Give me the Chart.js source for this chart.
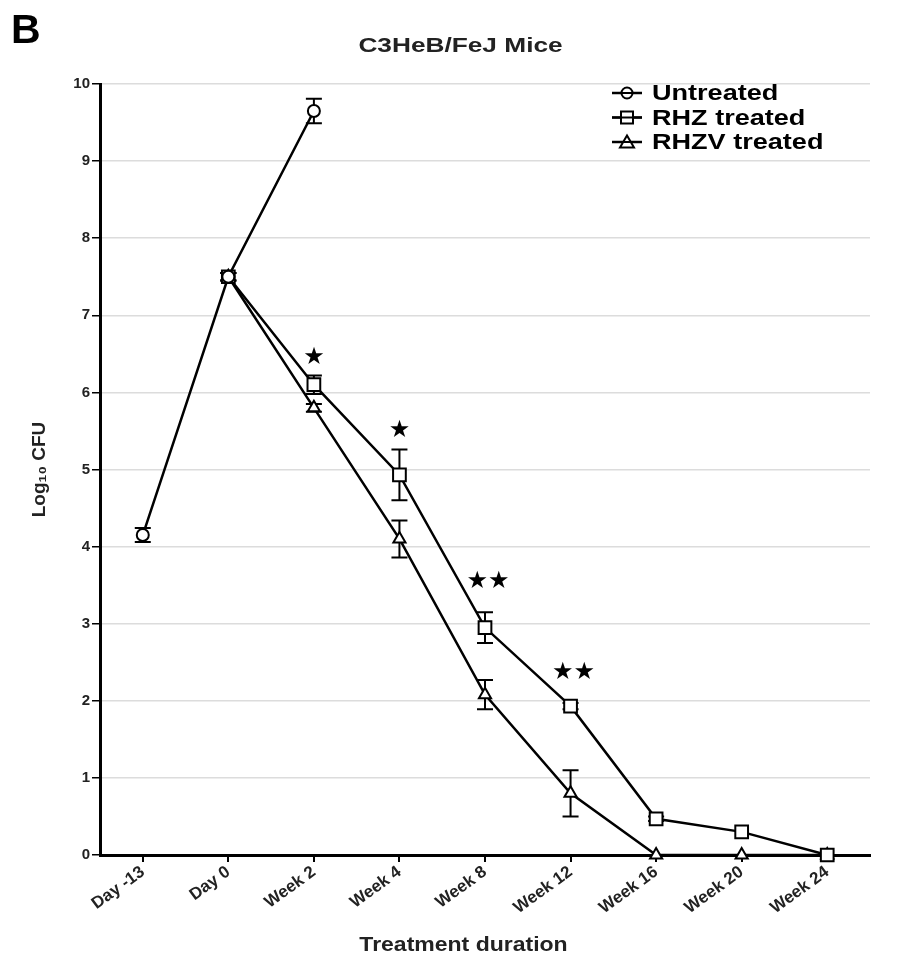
<!DOCTYPE html>
<html lang="en">
<head>
    <meta charset="UTF-8">
    <title>C3HeB/FeJ Mice</title>
    <script src="https://cdn.jsdelivr.net/npm/chart.js"></script>
    <style>
        html, body { margin: 0; padding: 0; background: #fff; }
        #wrap { width: 921px; height: 974px; }
    </style>
</head>
<body>
    <div id="wrap"><canvas id="myChart" width="921" height="974"></canvas></div>

    <script>
        // categories on x
        const labels = ['Day -13', 'Day 0', 'Week 2', 'Week 4', 'Week 8', 'Week 12', 'Week 16', 'Week 20', 'Week 24'];

        // log10 CFU means
        const untreated = [4.15, 7.5, 9.65, null, null, null, null, null, null];
        const rhz       = [null, 7.5, 6.1, 4.93, 2.95, 1.93, 0.47, 0.3, 0];
        const rhzv      = [null, 7.5, 5.8, 4.1, 2.08, 0.8, 0, 0, 0];

        // error bar half-widths
        const untreatedErr = [0.09, 0.05, 0.16, null, null, null, null, null, null];
        const rhzErr       = [null, 0.05, 0.12, 0.33, 0.2, 0.04, 0.03, 0, 0];
        const rhzvErr      = [null, 0.05, 0.05, 0.24, 0.19, 0.3, 0, 0, 0];

        // significance stars
        const starCats   = ['Week 2', 'Week 4', 'Week 8', 'Week 12'];
        const starValues = [6.45, 5.5, 3.55, 2.36];
        const starText   = ['★', '★', '★★', '★★'];

        const FONT = 'Liberation Sans, Arial, sans-serif';

        // error bars under the markers
        const errorBars = {
            id: 'errorBars',
            beforeDatasetsDraw(chart) {
                const ctx = chart.ctx;
                const x = chart.scales.x, y = chart.scales.y;
                ctx.save();
                ctx.strokeStyle = '#000';
                ctx.lineWidth = 2;
                chart.data.datasets.forEach(ds => {
                    ds.data.forEach((v, i) => {
                        const e = ds.errors[i];
                        if (v == null || !e) return;
                        const px = x.getPixelForValue(i);
                        const top = y.getPixelForValue(v + e);
                        const bot = y.getPixelForValue(v - e);
                        ctx.beginPath();
                        ctx.moveTo(px, top); ctx.lineTo(px, bot);
                        ctx.moveTo(px - 8, top); ctx.lineTo(px + 8, top);
                        ctx.moveTo(px - 8, bot); ctx.lineTo(px + 8, bot);
                        ctx.stroke();
                    });
                });
                ctx.restore();
            }
        };

        // wide text like the stretched original
        function wideText(ctx, text, x, y, sx) {
            ctx.save();
            ctx.translate(x, y);
            ctx.scale(sx, 1);
            ctx.fillText(text, 0, 0);
            ctx.restore();
        }

        // titles, stars, panel letter and legend
        const extras = {
            id: 'extras',
            afterDraw(chart) {
                const ctx = chart.ctx;
                const x = chart.scales.x, y = chart.scales.y;
                const W = chart.width;
                ctx.save();
                ctx.fillStyle = '#000';
                ctx.textAlign = 'center';
                ctx.textBaseline = 'middle';
                ctx.font = '24px DejaVu Sans, sans-serif';
                starCats.forEach((c, i) => {
                    const px = x.getPixelForValue(labels.indexOf(c));
                    ctx.fillText(starText[i], px + (starText[i].length > 1 ? 3 : 0), y.getPixelForValue(starValues[i]));
                });

                ctx.fillStyle = '#222';
                ctx.font = 'bold 21px ' + FONT;
                wideText(ctx, 'C3HeB/FeJ Mice', W / 2, 46, 1.25);
                ctx.font = 'bold 20px ' + FONT;
                wideText(ctx, 'Treatment duration', W / 2 + 3, 945, 1.15);

                ctx.fillStyle = '#000';
                ctx.textAlign = 'left';
                ctx.textBaseline = 'alphabetic';
                ctx.font = 'bold 41px ' + FONT;
                ctx.fillText('B', 11, 43);

                // legend
                const lx = chart.chartArea.right - 258;
                let ly = chart.chartArea.top + 9;
                ctx.font = 'bold 22px ' + FONT;
                ctx.textBaseline = 'middle';
                chart.data.datasets.forEach(ds => {
                    ctx.strokeStyle = '#000';
                    ctx.lineWidth = 2.5;
                    ctx.beginPath();
                    ctx.moveTo(lx, ly); ctx.lineTo(lx + 30, ly);
                    ctx.stroke();
                    ctx.lineWidth = 2;
                    ctx.fillStyle = '#fff';
                    const cx = lx + 15;
                    ctx.beginPath();
                    if (ds.pointStyle === 'circle') {
                        ctx.arc(cx, ly, 5.5, 0, Math.PI * 2);
                    } else if (ds.pointStyle === 'rect') {
                        ctx.rect(cx - 6, ly - 6, 12, 12);
                    } else {
                        ctx.moveTo(cx, ly - 6.5); ctx.lineTo(cx + 7, ly + 5.5); ctx.lineTo(cx - 7, ly + 5.5); ctx.closePath();
                    }
                    ctx.fill();
                    ctx.stroke();
                    ctx.beginPath();
                    ctx.moveTo(lx, ly); ctx.lineTo(lx + 30, ly);
                    ctx.stroke();
                    ctx.fillStyle = '#000';
                    wideText(ctx, ds.label, lx + 40, ly + 1, 1.23);
                    ly += 24.5;
                });
                ctx.restore();
            }
        };

        function series(label, data, errors, style, radius) {
            return {
                label: label,
                data: data,
                errors: errors,
                borderColor: '#000',
                borderWidth: 2.5,
                pointStyle: style,
                pointRadius: radius,
                pointHoverRadius: radius,
                pointBorderWidth: 2,
                pointBorderColor: '#000',
                pointBackgroundColor: '#fff',
                tension: 0,
                fill: false,
                spanGaps: false,
                clip: false
            };
        }

        const ctx = document.getElementById('myChart').getContext('2d');
        const myChart = new Chart(ctx, {
            type: 'line',
            data: {
                labels: labels,
                datasets: [
                    series('Untreated', untreated, untreatedErr, 'circle', 6),
                    series('RHZ treated', rhz, rhzErr, 'rect', 9),
                    series('RHZV treated', rhzv, rhzvErr, 'triangle', 7)
                ]
            },
            options: {
                responsive: false,
                animation: false,
                layout: { padding: { left: 0, right: 51, top: 84, bottom: 0 } },
                plugins: {
                    legend: { display: false },
                    tooltip: { enabled: false },
                    title: { display: false }
                },
                scales: {
                    x: {
                        offset: true,
                        grid: { drawOnChartArea: false, tickLength: 7, tickColor: '#000', lineWidth: 2, offset: false },
                        border: { color: '#000', width: 3 },
                        ticks: {
                            autoSkip: false,
                            minRotation: 36,
                            maxRotation: 36,
                            padding: 0,
                            color: '#222',
                            font: { family: FONT, size: 17, weight: 'bold' }
                        },
                        afterFit(scale) { scale.height = 119; }
                    },
                    y: {
                        min: 0,
                        max: 10,
                        ticks: {
                            stepSize: 1,
                            padding: 2,
                            color: '#222',
                            font: { family: FONT, size: 15, weight: 'bold' }
                        },
                        grid: { color: '#dcdcdc', lineWidth: 1.5, tickLength: 8, tickColor: '#000' },
                        border: { color: '#000', width: 3 },
                        title: {
                            display: true,
                            text: 'Log₁₀ CFU',
                            color: '#222',
                            font: { family: FONT, size: 19, weight: 'bold' },
                            padding: { top: 28, bottom: 0 }
                        },
                        afterFit(scale) { scale.width = 100; }
                    }
                }
            },
            plugins: [errorBars, extras]
        });
    </script>
</body>
</html>
